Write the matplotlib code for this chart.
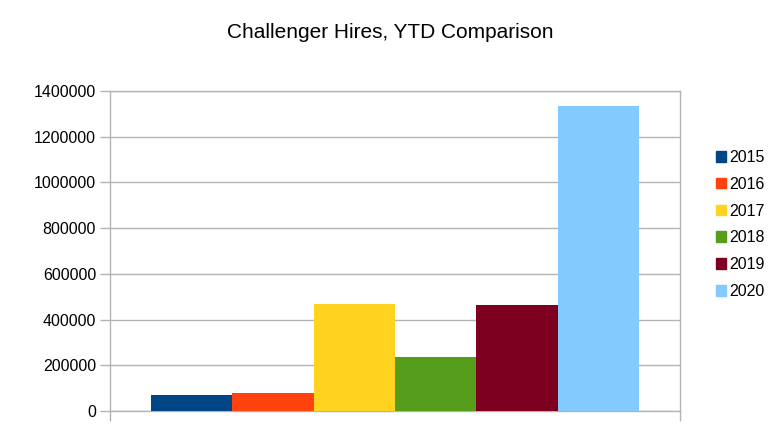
import numpy as np
import matplotlib.pyplot as plt
from matplotlib.patches import Patch

years = ["2015", "2016", "2017", "2018", "2019", "2020"]
hires = [68700, 77400, 468000, 235000, 463000, 1334000]
colors = ["#004586", "#ff420e", "#ffd320", "#579d1c", "#7e0021", "#83caff"]
yticks = [0, 200000, 400000, 600000, 800000, 1000000, 1200000, 1400000]

plt.rcParams['font.family'] = ['Liberation Sans', 'DejaVu Sans']
grey = "#b3b3b3"

fig = plt.figure(figsize=(7.78, 4.46), dpi=100)
ax = fig.add_axes([110/778, 1-411/446, 570/778, 320/446])

n = len(years)
w = 1.0 / (n + 1)
offs = (np.arange(n) - (n - 1) / 2) * w
for o, v, c, lab in zip(offs, hires, colors, years):
    ax.bar(o, v, width=w, color=c, label=lab, zorder=3)

ax.set_xlim(-0.5, 0.5)
ax.set_ylim(0, 1400000)
ax.set_yticks(yticks)
ax.set_yticklabels([str(t) for t in yticks], fontsize=11.5)
ax.set_xticks([-0.5, 0.5])
ax.set_xticklabels(["", ""])
ax.tick_params(axis='both', length=7, width=1, color=grey, pad=3)
ax.yaxis.grid(True, color=grey, linewidth=1, zorder=0)
for s in ax.spines.values():
    s.set_color(grey)
    s.set_linewidth(1)

fig.text(390/778, 1-33/446, "Challenger Hires, YTD Comparison",
         ha='center', va='center', fontsize=15)

handles = [Patch(color=c) for c in colors]
fig.legend(handles, years, loc='center left', bbox_to_anchor=(716/778, 1-224.5/446),
           frameon=False, fontsize=11.5, handlelength=0.65, handleheight=0.65,
           handletextpad=0.15, labelspacing=0.74, borderpad=0, borderaxespad=0)

fig.savefig("out.png", dpi=100)
